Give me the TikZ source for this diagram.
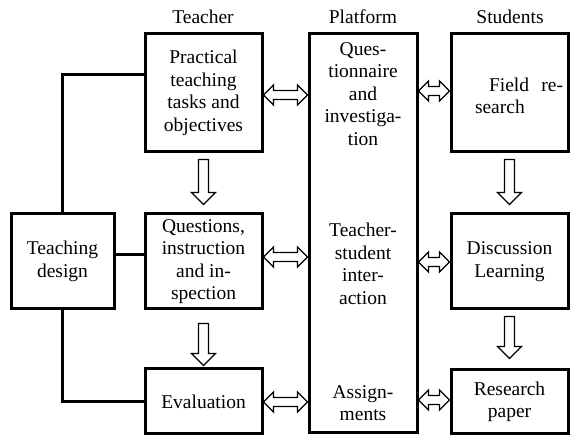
\documentclass[tikz,border=0pt]{standalone}
\usepackage{fontspec}
\setmainfont{Liberation Serif}
\usetikzlibrary{calc}
\tikzset{
  every node/.style={font=\fontsize{19.5pt}{22.5pt}\selectfont},
  box/.style={draw, line width=3pt, inner sep=0pt, align=center},
  conn/.style={line width=3pt},
  hollow/.style={draw, line width=1.3pt, fill=white, line join=miter},
  txt/.style={inner sep=0pt, align=center}
}
\newcommand\dnarr[4]{%
  \draw[hollow] let \p1=(#1.south), \p2=(#2.north) in
  (\x1-5pt,\y1-#3) -- (\x1-5pt,\y2+#4+12pt) -- (\x1-12pt,\y2+#4+12pt) -- (\x1,\y2+#4)
  -- (\x1+12pt,\y2+#4+12pt) -- (\x1+5pt,\y2+#4+12pt) -- (\x1+5pt,\y1-#3) -- cycle;}
\newcommand\dblarr[3]{%
  \draw[hollow] let \p1=(#1.east), \p2=(#2.west) in
  (\x1,#3) -- (\x1+10pt,#3+10pt) -- (\x1+10pt,#3+4.5pt) -- (\x2-10pt,#3+4.5pt)
  -- (\x2-10pt,#3+10pt) -- (\x2,#3) -- (\x2-10pt,#3-10pt) -- (\x2-10pt,#3-4.5pt)
  -- (\x1+10pt,#3-4.5pt) -- (\x1+10pt,#3-10pt) -- cycle;}
\begin{document}
\begin{tikzpicture}[x=1pt,y=1pt]
\useasboundingbox (0,0) rectangle (570,436);
% headings
\node[txt] (hT) at (203,419) {Teacher};
\node[txt] (hP) at (363,419) {Platform};
\node[txt] (hS) at (510,419) {Students};
% teacher column
\node[box, minimum width=117pt, minimum height=118pt] (t1) at (203.5,343) {Practical\\teaching\\tasks and\\objectives};
\node[box, minimum width=117pt, minimum height=95pt] (t2) at (203.5,174.5) {Questions,\\instruction\\and in-\\spection};
\node[box, minimum width=117pt, minimum height=65pt] (t3) at (203.5,34.5) {Evaluation};
\node[box, minimum width=103pt, minimum height=95pt] (td) at (62.5,174.5) {Teaching\\design};
% platform
\node[box, minimum width=108pt, minimum height=399pt] (P) at (363,202.5) {};
\node[txt] (p1) at (363,342) {Ques-\\tionnaire\\and\\investiga-\\tion};
\node[txt] (p2) at (363,172) {Teacher-\\student\\inter-\\action};
\node[txt] (p3) at (363,33) {Assign-\\ments};
% students
\node[box, minimum width=117pt, minimum height=118pt] (s1) at (509.5,343) {};
\node[txt, align=left] (s1t) at (519,340) {\makebox[88pt][l]{\hspace{14pt}Field\hfill re-}\\search};
\node[box, minimum width=117pt, minimum height=95pt] (s2) at (509.5,174.5) {Discussion\\Learning};
\node[box, minimum width=117pt, minimum height=64pt] (s3) at (509.5,34) {Research\\paper};
% teaching design connectors
\draw[conn] ($(t1.west)+(0,18)$) -| (td.north);
\draw[conn] (td.east |- 0,181) -- (t2.west |- 0,181);
\draw[conn] (td.south) |- (t3.west);
% down arrows
\dnarr{t1}{t2}{6pt}{8pt}
\dnarr{t2}{t3}{13pt}{2pt}
\dnarr{s1}{s2}{6pt}{8pt}
\dnarr{s2}{s3}{6pt}{10pt}
% double arrows
\dblarr{t1}{P}{341pt}
\dblarr{t2}{P}{179pt}
\dblarr{t3}{P}{34pt}
\dblarr{P}{s1}{345pt}
\dblarr{P}{s2}{174pt}
\dblarr{P}{s3}{36pt}
\end{tikzpicture}
\end{document}
